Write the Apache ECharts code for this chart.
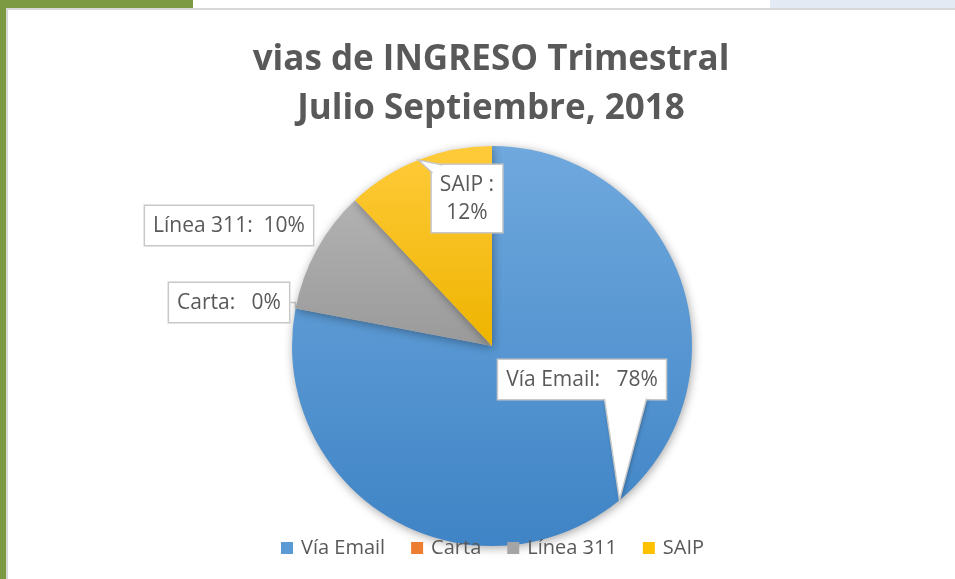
<!DOCTYPE html>
<html>
<head>
<meta charset="utf-8">
<script src="https://cdn.jsdelivr.net/npm/echarts@6/dist/echarts.min.js"></script>
<style>
html,body{margin:0;padding:0;background:#fff;}
#wrap{position:relative;width:955px;height:579px;overflow:hidden;background:#fff;}
.blk{position:absolute;}
#chart{position:absolute;left:0;top:0;width:955px;height:579px;}
</style>
</head>
<body>
<div id="wrap">
  <div class="blk" style="left:0;top:0;width:6px;height:579px;background:#7B9A42;"></div>
  <div class="blk" style="left:0;top:0;width:193px;height:8px;background:#7B9A42;"></div>
  <div class="blk" style="left:770px;top:0;width:185px;height:8px;background:#E3EAF3;"></div>
  <div class="blk" style="left:6px;top:8px;width:949px;height:2px;background:#D8D8D8;"></div>
  <div class="blk" style="left:6px;top:8px;width:2px;height:571px;background:#D8D8D8;"></div>
  <div id="chart"></div>
</div>
<script>
var titleLines = ['vias de INGRESO Trimestral', 'Julio Septiembre, 2018'];
var categories = ['Vía Email', 'Carta', 'Línea 311', 'SAIP'];
var values = [78, 0, 10, 12];
var labelTexts = ['Vía Email:   78%', 'Carta:   0%', 'Línea 311:  10%', 'SAIP :\n12%'];

var colorsTop = ['#6FA8DD', '#F08A44', '#B2B2B2', '#FFCB3A'];
var colorsBottom = ['#3F84C6', '#E0702A', '#9A9A9A', '#EEB400'];
var baseColors = ['#5B9BD5', '#ED7D31', '#A5A5A5', '#FFC000'];

// pie geometry
var CX = 492, CY = 346, R = 200;
// label box centres / tops
var labelPos = [
  {x: 582, y: 360},
  {x: 229, y: 283},
  {x: 229, y: 206},
  {x: 467, y: 165}
];
var LABEL_H = 40;
var SAIP_HALF_W = 34.5;

function grad(i) {
  return new echarts.graphic.LinearGradient(0, 0, 0, 1, [
    {offset: 0, color: colorsTop[i]},
    {offset: 1, color: colorsBottom[i]}
  ]);
}

// mid angle point of slice i on the rim (clockwise from 12 o'clock)
function rimPoint(i) {
  var total = values.reduce(function (a, b) { return a + b; }, 0);
  var before = 0;
  for (var k = 0; k < i; k++) before += values[k];
  var a = (before + values[i] / 2) / total * Math.PI * 2;
  return [CX + R * Math.sin(a), CY - R * Math.cos(a)];
}

function pointer(p1, tip, p2, shadow) {
  return [
    {
      type: 'polygon', z: 100,
      shape: {points: [p1, p2, tip]},
      style: shadow ? {fill: '#ffffff', shadowColor: 'rgba(0,0,0,0.3)', shadowBlur: 4, shadowOffsetX: 1, shadowOffsetY: 1}
                    : {fill: '#ffffff'}
    },
    {
      type: 'polyline', z: 101,
      shape: {points: [p1, tip, p2]},
      style: {stroke: '#C8C8C8', lineWidth: 1.5, fill: null}
    }
  ];
}

var FONT = 'Open Sans';
var chart = echarts.init(document.getElementById('chart'), null, {renderer: 'canvas'});

var pieData = categories.map(function (c, i) {
  return {name: c, value: values[i], itemStyle: {color: grad(i)}};
});
var labelData = categories.map(function (c, i) {
  var item = {
    name: c,
    value: values[i],
    label: {formatter: labelTexts[i]}
  };
  if (i !== 1) item.labelLine = {show: false};
  return item;
});

// Email callout pointer
var tipE = rimPoint(0);
var baseY = labelPos[0].y + LABEL_H - 1;
var baseL = tipE[0] - 15, baseR = tipE[0] + 27;
var graphics = pointer([baseL, baseY], tipE, [baseR, baseY], true);
graphics.push({
  type: 'rect', z: 102,
  shape: {x: baseL + 1.5, y: baseY - 3, width: baseR - baseL - 3, height: 4},
  style: {fill: '#ffffff'}
});
// SAIP callout pointer (from the label box's top-left corner)
var sL = labelPos[3].x - SAIP_HALF_W, sT = labelPos[3].y;
graphics = graphics.concat(pointer([sL, sT + 8], rimPoint(3), [sL + 10, sT], false));

chart.setOption({
  animation: false,
  backgroundColor: 'transparent',
  color: baseColors,
  title: {
    text: titleLines.join('\n'),
    left: 486,
    top: 31,
    textAlign: 'center',
    textStyle: {
      fontFamily: FONT,
      fontWeight: 'bold',
      fontSize: 35,
      lineHeight: 49,
      color: '#595959'
    }
  },
  legend: {
    bottom: 16,
    left: 276,
    itemWidth: 12,
    itemHeight: 12,
    itemGap: 26,
    icon: 'rect',
    data: categories.map(function (c, i) { return {name: c, itemStyle: {color: baseColors[i]}}; }),
    textStyle: {fontFamily: FONT, fontSize: 20, color: '#595959', padding: [0, 0, 0, 3]}
  },
  graphic: graphics,
  series: [{
    type: 'pie',
    name: 'pie',
    center: [CX, CY],
    radius: R,
    startAngle: 90,
    clockwise: true,
    data: pieData,
    label: {show: false},
    labelLine: {show: false},
    itemStyle: {
      shadowColor: 'rgba(0,0,0,0.35)',
      shadowBlur: 10,
      shadowOffsetX: 1,
      shadowOffsetY: 2
    }
  }, {
    type: 'pie',
    name: 'labels',
    center: [CX, CY],
    radius: R,
    startAngle: 90,
    clockwise: true,
    silent: true,
    legendHoverLink: false,
    data: labelData,
    itemStyle: {color: 'rgba(0,0,0,0)', borderWidth: 0},
    label: {
      show: true,
      position: 'outside',
      fontFamily: FONT,
      fontSize: 21,
      lineHeight: 28,
      color: '#595959',
      backgroundColor: '#ffffff',
      borderColor: '#C8C8C8',
      borderWidth: 1.5,
      padding: [6, 8, 5, 8],
      align: 'center'
    },
    labelLine: {
      show: true,
      length: 5,
      length2: 5,
      smooth: false,
      maxSurfaceAngle: 180,
      lineStyle: {color: '#C8C8C8', width: 1.5}
    },
    labelLayout: function (params) {
      var p = labelPos[params.dataIndex];
      return {x: p.x, y: p.y, align: 'center', verticalAlign: 'top'};
    }
  }]
});
</script>
</body>
</html>
